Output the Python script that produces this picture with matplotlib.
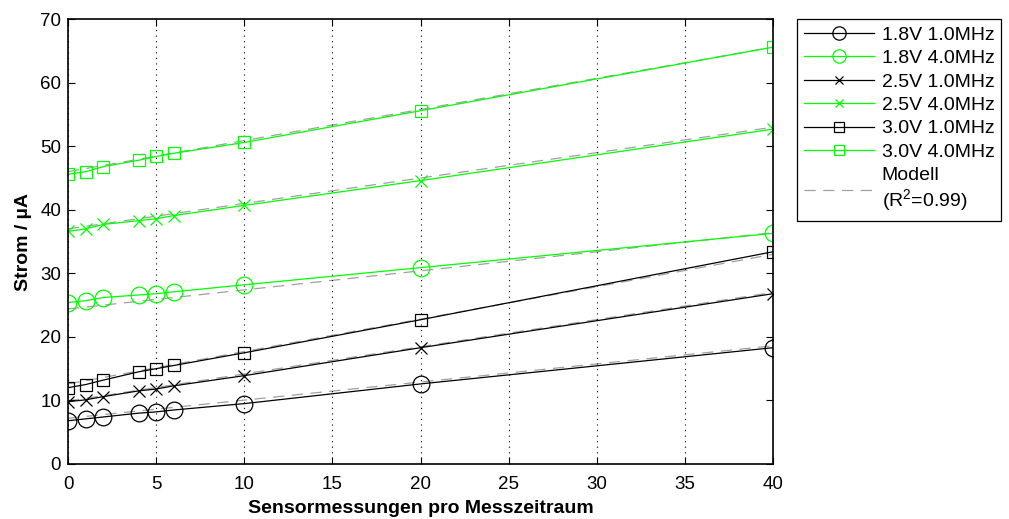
import matplotlib
matplotlib.use("Agg")
import matplotlib.pyplot as plt

plt.rcParams["font.family"] = ["Liberation Sans", "DejaVu Sans"]
plt.rcParams["mathtext.fontset"] = "custom"
plt.rcParams["mathtext.rm"] = "Liberation Sans"

# --- Data ---
x = [0, 1, 2, 4, 5, 6, 10, 20, 40]

labels = ["1.8V 1.0MHz", "1.8V 4.0MHz", "2.5V 1.0MHz",
          "2.5V 4.0MHz", "3.0V 1.0MHz", "3.0V 4.0MHz"]

v18_1mhz = [6.8, 7.1, 7.4, 8.0, 8.2, 8.5, 9.5, 12.6, 18.3]
v18_4mhz = [25.4, 25.7, 26.2, 26.6, 26.8, 27.1, 28.2, 30.9, 36.3]
v25_1mhz = [9.8, 10.1, 10.6, 11.5, 11.8, 12.3, 13.9, 18.3, 26.8]
v25_4mhz = [36.6, 37.0, 37.7, 38.3, 38.6, 39.1, 40.7, 44.6, 52.7]
v30_1mhz = [12.0, 12.5, 13.2, 14.5, 15.0, 15.5, 17.5, 22.7, 33.4]
v30_4mhz = [45.6, 46.0, 46.8, 47.8, 48.4, 48.9, 50.6, 55.6, 65.6]

# linear model: value at x=0 and at x=40
model_x = [0, 40]
model_start = [7.2, 24.4, 9.9, 37.0, 12.6, 46.0]
model_end = [18.6, 36.4, 27.0, 53.0, 33.0, 65.6]

series = [v18_1mhz, v18_4mhz, v25_1mhz, v25_4mhz, v30_1mhz, v30_4mhz]
colors = ["black", "#00ff00", "black", "#00ff00", "black", "#00ff00"]
markers = ["o", "o", "x", "x", "s", "s"]
msizes = [12, 12, 8, 8, 9, 9]

# --- Plot ---
fig = plt.figure(figsize=(10.09, 5.19), dpi=100)
ax = fig.add_axes([0.0674, 0.106, 0.6987, 0.857])

handles = []
for ys, c, m, ms, lab in zip(series, colors, markers, msizes, labels):
    h, = ax.plot(x, ys, color=c, marker=m, markersize=ms, markerfacecolor="none",
                 markeredgecolor=c, markeredgewidth=0.9, linewidth=0.9, label=lab)
    handles.append(h)

for s, e in zip(model_start, model_end):
    hm, = ax.plot(model_x, [s, e], color="#a0a0a0", linestyle=(0, (9, 6)),
                  linewidth=0.9, zorder=1)
hm.set_label("Modell\n(R$^2$=0.99)")
handles.append(hm)

ax.set_xlim(0, 40)
ax.set_ylim(0, 70)
ax.set_xticks(range(0, 41, 5))
ax.set_yticks(range(0, 71, 10))
ax.tick_params(direction="in", top=True, right=True, labelsize=13.5, length=5, width=0.8)
ax.tick_params(axis="x", pad=9)
ax.tick_params(axis="y", pad=5)
ax.xaxis.grid(True, linestyle=(0, (1, 4)), color="black", linewidth=0.8)
for sp in ax.spines.values():
    sp.set_linewidth(1.2)

ax.set_xlabel("Sensormessungen pro Messzeitraum", fontsize=14, fontweight="bold", labelpad=5)
ax.set_ylabel("Strom / µA", fontsize=14, fontweight="bold", labelpad=6)

leg = fig.legend(handles=handles, loc="upper left", bbox_to_anchor=(0.790, 0.963),
                 fontsize=14, handlelength=3.6, handletextpad=0.4, borderpad=0.35,
                 markerscale=0.8, fancybox=False, edgecolor="black", framealpha=1,
                 borderaxespad=0, labelspacing=0.3)
leg.get_frame().set_linewidth(0.9)

plt.savefig("out.png", dpi=100)
plt.close()
